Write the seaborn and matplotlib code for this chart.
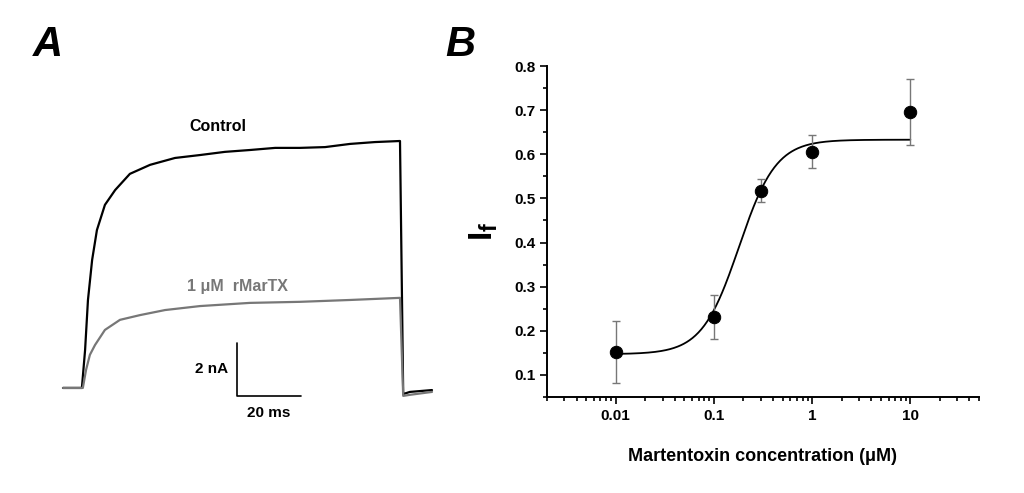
import numpy as np
import pandas as pd
import matplotlib
matplotlib.use("Agg")
import matplotlib.pyplot as plt
import seaborn as sns

# Panel A traces (time ms, current nA)
ctrl_t = [0, 5.9, 6.9, 7.8, 9.1, 10.6, 13.1, 16.3, 20.9, 27.2, 35, 42.8, 50.6, 58.4, 66.3, 74, 81.9, 89.7, 97.5, 105.3, 106.3, 108.4, 115.3]
ctrl_i = [0, 0, 1.43, 3.32, 4.83, 5.96, 6.91, 7.47, 8.08, 8.42, 8.68, 8.79, 8.91, 8.98, 9.06, 9.06, 9.09, 9.21, 9.28, 9.32, -0.23, -0.15, -0.08]
tx_t = [0, 6.2, 7.2, 8.4, 10.0, 13.1, 17.8, 24.1, 31.9, 42.8, 58.4, 74, 89.7, 105.3, 106.3, 108.4, 115.3]
tx_i = [0, 0, 0.68, 1.25, 1.62, 2.19, 2.57, 2.75, 2.94, 3.09, 3.21, 3.25, 3.32, 3.40, -0.30, -0.26, -0.15]

# Panel B data
conc = [0.01, 0.1, 0.3, 1, 10]
frac = [0.152, 0.231, 0.517, 0.606, 0.695]
err = [0.070, 0.050, 0.026, 0.038, 0.075]
fit_bottom, fit_top, fit_ec50, fit_n = 0.147, 0.633, 0.18, 2.3

sns.set_style("white")
plt.rcParams.update({"font.family": "Liberation Sans", "text.color": "black",
                     "axes.labelcolor": "black", "xtick.color": "black", "ytick.color": "black",
                     "mathtext.fontset": "custom", "mathtext.bf": "Liberation Sans:bold",
                     "mathtext.rm": "Liberation Sans"})
fig = plt.figure(figsize=(10.24, 4.93), dpi=100)
W, H = 1024, 493

def ax_px(l, t, r, b):
    return fig.add_axes([l / W, 1 - b / H, (r - l) / W, (b - t) / H])

# Panel A
axA = ax_px(55, 110, 440, 420)
sns.lineplot(x=ctrl_t, y=ctrl_i, ax=axA, color="black", lw=1.6, sort=False, estimator=None)
sns.lineplot(x=tx_t, y=tx_i, ax=axA, color="#777777", lw=1.6, sort=False, estimator=None)
axA.set_xlim(-2.5, 117.8)
axA.set_ylim(-1.21, 10.49)
axA.axis("off")
axA.plot([54.4, 54.4, 74.4], [1.70, -0.3, -0.3], color="black", lw=1.2)
axA.text(51.5, 0.7, "2 nA", ha="right", va="center", fontsize=11, fontweight="bold")
axA.text(64.4, -0.7, "20 ms", ha="center", va="top", fontsize=11, fontweight="bold")
axA.text(48.5, 9.6, "Control", ha="center", va="bottom", fontsize=11.5, fontweight="bold")
axA.text(54.5, 3.55, "1 \u03bcM  rMarTX", ha="center", va="bottom", fontsize=11.5, fontweight="bold", color="#777777")
fig.text(33 / W, 1 - 45 / H, "A", fontsize=30, fontweight="bold", fontstyle="italic", va="center")
fig.text(445 / W, 1 - 45 / H, "B", fontsize=30, fontweight="bold", fontstyle="italic", va="center")

# Panel B
axB = ax_px(547, 66, 979, 397)
xs = np.logspace(-2, 1, 300)
ys = fit_bottom + (fit_top - fit_bottom) / (1 + (fit_ec50 / xs) ** fit_n)
sns.lineplot(x=xs, y=ys, ax=axB, color="black", lw=1.3)
axB.errorbar(conc, frac, yerr=err, fmt="none", ecolor="#777777", elinewidth=1, capsize=3)
sns.scatterplot(x=conc, y=frac, ax=axB, color="black", s=80, edgecolor="black", zorder=5)
axB.set_xscale("log")
axB.set_xlim(0.002, 50)
axB.set_ylim(0.05, 0.8)
axB.set_yticks([0.1, 0.2, 0.3, 0.4, 0.5, 0.6, 0.7, 0.8])
axB.set_yticks(np.arange(0.05, 0.81, 0.05), minor=True)
axB.set_xticks([0.01, 0.1, 1, 10])
axB.set_xticklabels(["0.01", "0.1", "1", "10"])
axB.tick_params(which="both", direction="out", bottom=True, left=True, width=1.2, labelsize=11)
axB.tick_params(which="major", length=5)
axB.tick_params(which="minor", length=3)
for lab in axB.get_xticklabels() + axB.get_yticklabels():
    lab.set_fontweight("bold")
for s in ["top", "right"]:
    axB.spines[s].set_visible(False)
for s in ["left", "bottom"]:
    axB.spines[s].set_linewidth(1.4)
    axB.spines[s].set_color("black")
axB.set_xlabel("Martentoxin concentration (\u03bcM)", fontsize=13, fontweight="bold", labelpad=18)
axB.set_ylabel("$\\mathbf{I_f}$", fontsize=24, labelpad=10)

fig.savefig("out.png", dpi=100)
